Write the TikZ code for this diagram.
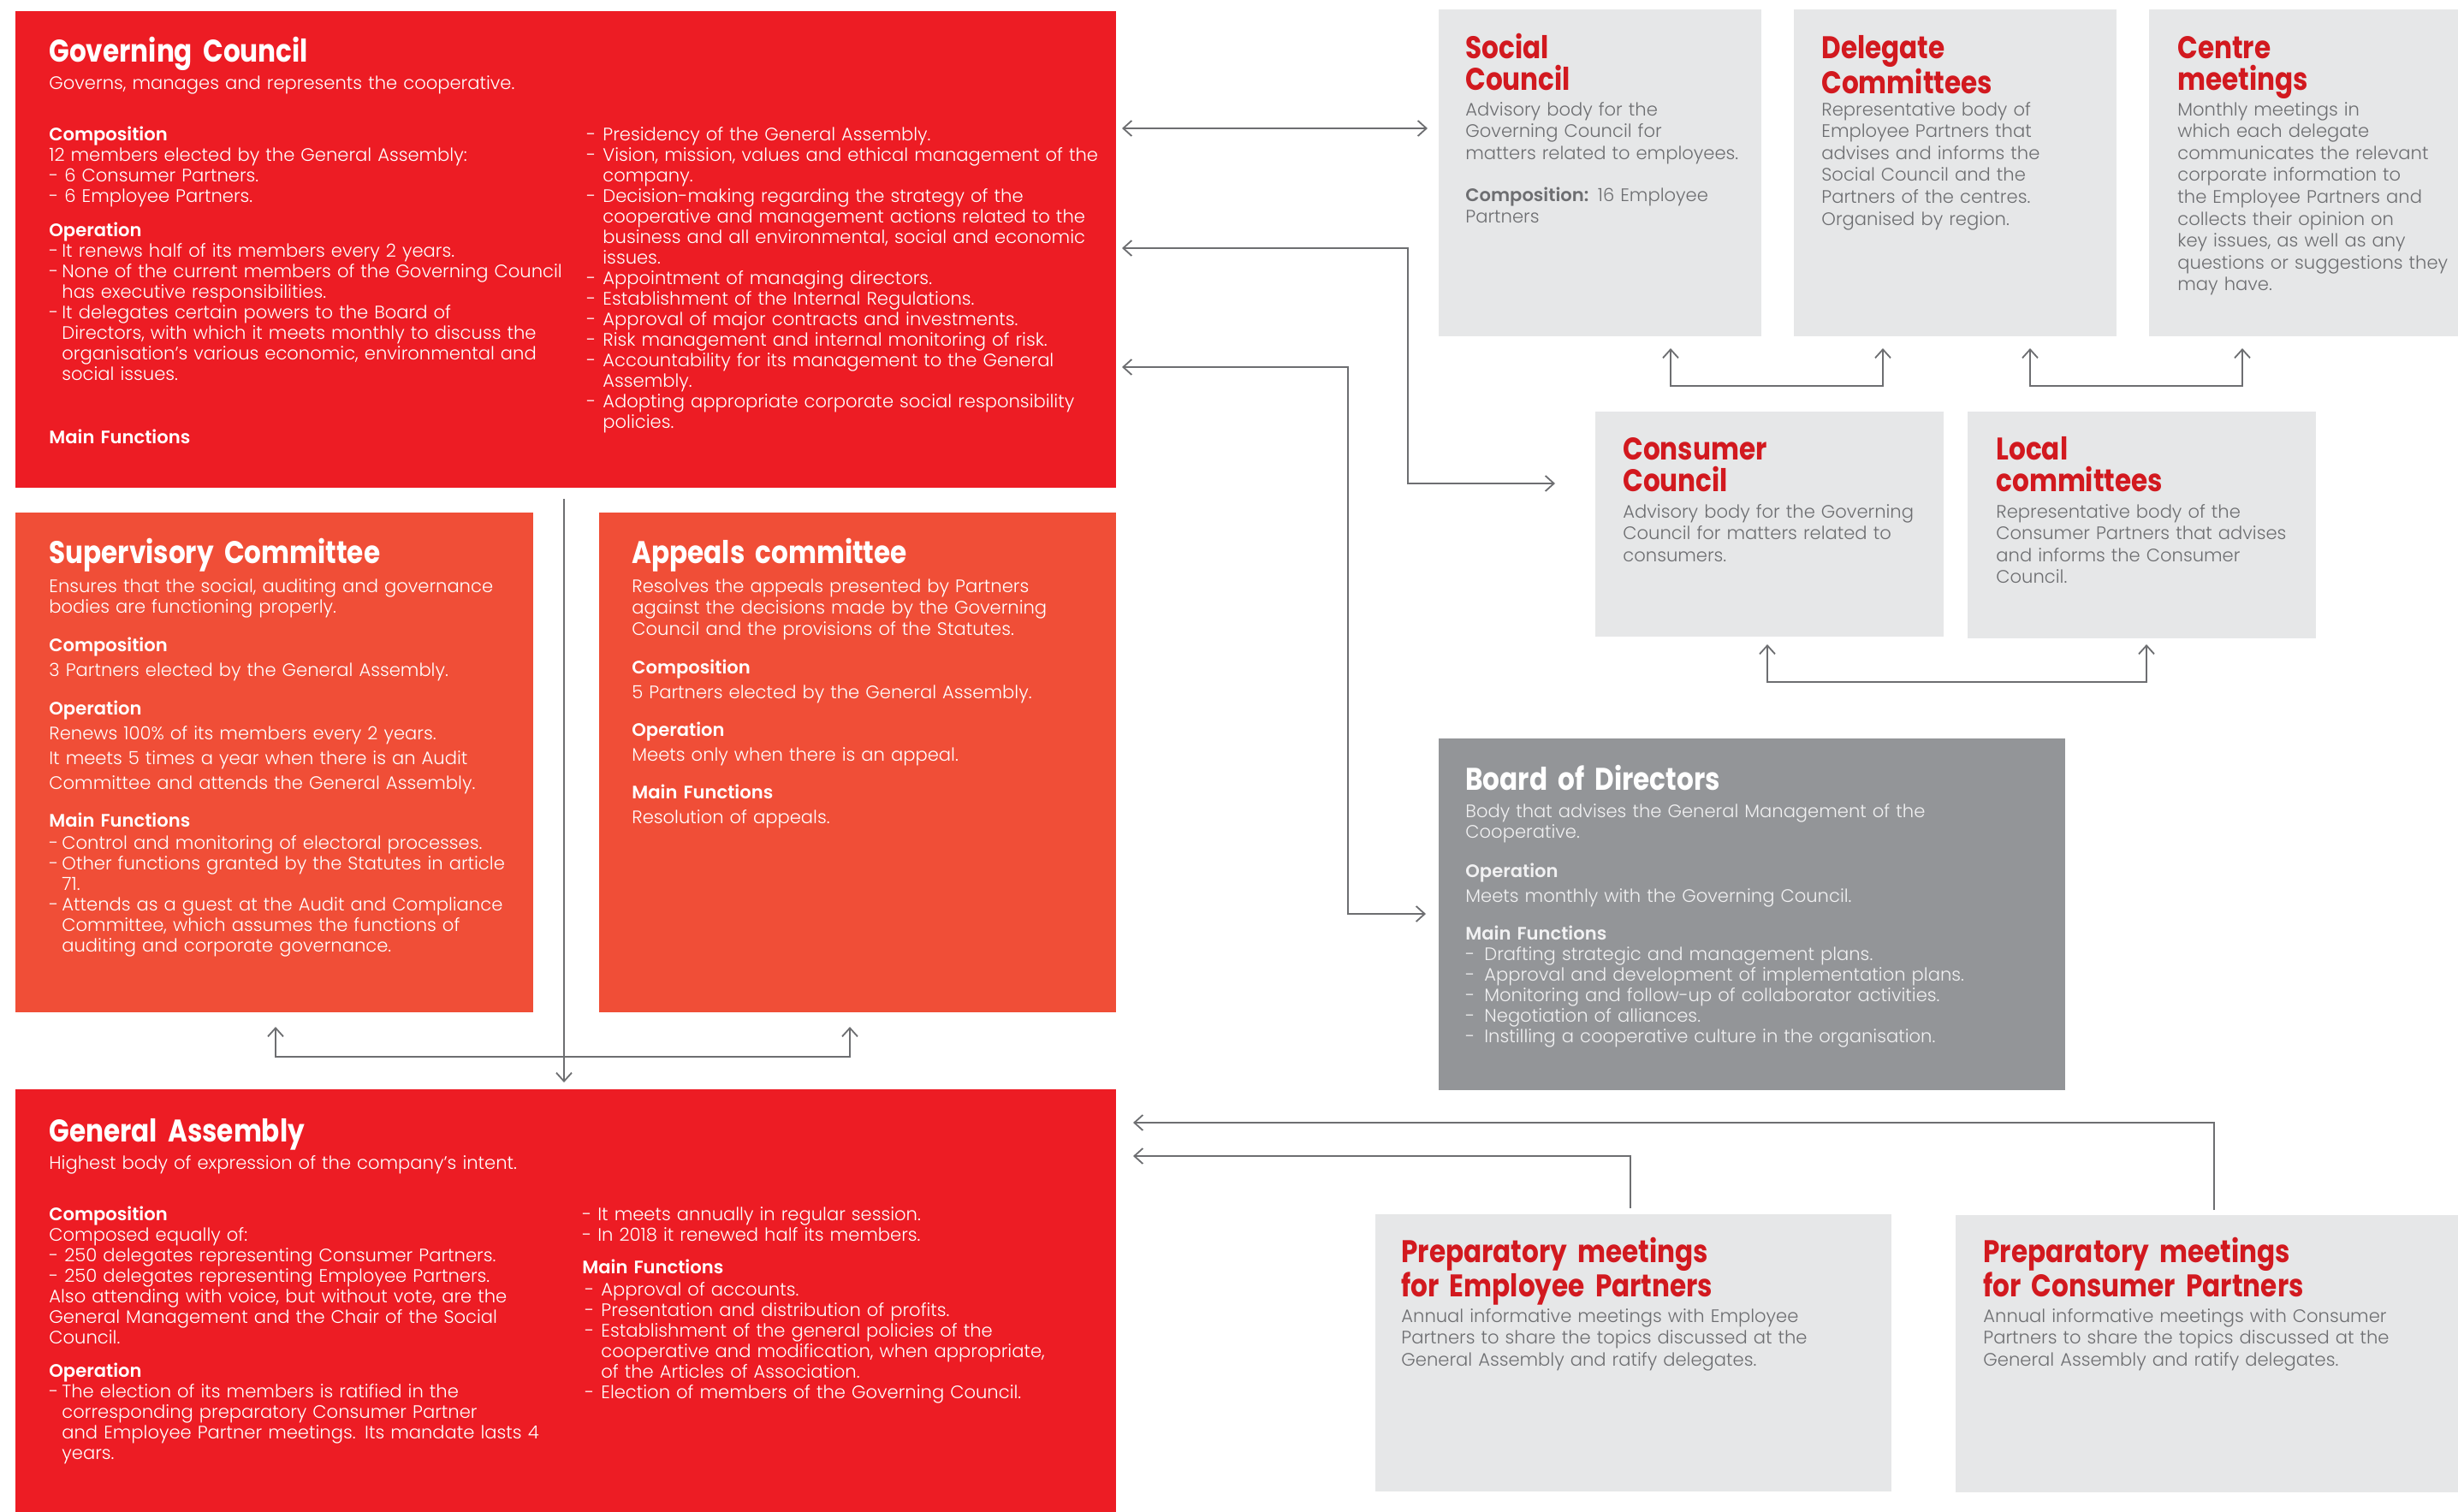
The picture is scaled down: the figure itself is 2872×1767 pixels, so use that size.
\documentclass[tikz,border=0pt]{standalone}
\usepackage{fontspec}
\setmainfont{Poppins}[UprightFont={* Light}, BoldFont={* SemiBold}]
\newfontfamily\titlef{Poppins}[FakeStretch=0.85]
\usetikzlibrary{arrows.meta,calc,fit}
\definecolor{gcred}{HTML}{ED1C24}
\definecolor{orred}{HTML}{F04E37}
\definecolor{lgrey}{HTML}{E6E7E8}
\definecolor{dgrey}{HTML}{939598}
\definecolor{tred}{HTML}{D2191F}
\definecolor{tgrey}{HTML}{6D6E71}
\definecolor{lineg}{HTML}{6D6E71}
\definecolor{bwhite}{HTML}{F1F1F2}
\newcommand\hd[1]{{\bfseries #1}}
\newcommand\dsh{\makebox[7.5pt][l]{-}}
\newcommand\ind{\hspace*{7.5pt}}
\newcommand\dshb{\makebox[9.5pt][l]{-}}
\newcommand\indb{\hspace*{9.5pt}}
\begin{document}
\begin{tikzpicture}[x=0.5pt,y=-0.5pt,
  box/.style={inner sep=0pt, outer sep=0pt, draw=none},
  txt/.style={anchor=base west, inner sep=0pt, yshift=-1.5pt, align=left, text width=340pt, text=white, font=\fontsize{10.55}{12}\selectfont},
  txtw/.style={txt, font=\fontsize{10.55}{14.5}\selectfont},
  txtg/.style={txt, yshift=1pt, text=tgrey, font=\fontsize{10.55}{12.8}\selectfont},
  ttl/.style={anchor=base west, inner sep=0pt, yshift=-1pt, align=left, text width=340pt, text=white, font={\titlef\bfseries\fontsize{18.3}{18.5}\selectfont}},
  ttlg/.style={ttl, text=tred},
  conn/.style={draw=lineg, line width=0.9pt, >={Straight Barb[length=5pt,width=9pt]}}
]
\useasboundingbox (0,0) rectangle (2872,1767);
\fill[white] (0,0) rectangle (2872,1767);

% boxes
\node[box, fill=gcred, fit={(18,13)(1304,570)}] (gc) {};
\node[box, fill=orred, fit={(18,599)(623,1183)}] (sup) {};
\node[box, fill=orred, fit={(700,599)(1304,1183)}] (app) {};
\node[box, fill=gcred, fit={(18,1273)(1304,1767)}] (ga) {};
\node[box, fill=lgrey, fit={(1681,11)(2058,393)}] (soc) {};
\node[box, fill=lgrey, fit={(2096,11)(2473,393)}] (del) {};
\node[box, fill=lgrey, fit={(2511,11)(2872,393)}] (cen) {};
\node[box, fill=lgrey, fit={(1864,481)(2271,744)}] (con) {};
\node[box, fill=lgrey, fit={(2299,481)(2706,746)}] (loc) {};
\node[box, fill=dgrey, fit={(1681,863)(2413,1274)}] (bod) {};
\node[box, fill=lgrey, fit={(1607,1419)(2210,1743)}] (pe) {};
\node[box, fill=lgrey, fit={(2285,1420)(2872,1744)}] (pc) {};

% Governing Council
\node[ttl] (gct) at (57,70) {Governing Council};
\node[txt] (gcs) at (57,101) {Governs, manages and represents the cooperative.};
\node[txt] (gcc) at (57,161) {\hd{Composition}\\12 members elected by the General Assembly:\\- 6 Consumer Partners.\\- 6 Employee Partners.};
\node[txt] (gco) at (57,273) {\hd{Operation}\\\dsh It renews half of its members every 2 years.\\\dsh None of the current members of the Governing Council\\\ind has executive responsibilities.\\\dsh It delegates certain powers to the Board of\\\ind Directors, with which it meets monthly to discuss the\\\ind organisation's various economic, environmental and\\\ind social issues.};
\node[txt] (gcm) at (57,515) {\hd{Main Functions}};
\node[txt] (gcr) at (685,161) {\dshb Presidency of the General Assembly.\\
\dshb Vision, mission, values and ethical management of the\\
\indb company.\\
\dshb Decision-making regarding the strategy of the\\
\indb cooperative and management actions related to the\\
\indb business and all environmental, social and economic\\
\indb issues.\\
\dshb Appointment of managing directors.\\
\dshb Establishment of the Internal Regulations.\\
\dshb Approval of major contracts and investments.\\
\dshb Risk management and internal monitoring of risk.\\
\dshb Accountability for its management to the General\\
\indb Assembly.\\
\dshb Adopting appropriate corporate social responsibility\\
\indb policies.};

% Supervisory Committee
\node[ttl] (supt) at (57,656) {Supervisory Committee};
\node[txt] (sups) at (57,689) {Ensures that the social, auditing and governance\\bodies are functioning properly.};
\node[txtw] (supc) at (57,758) {\hd{Composition}\\3 Partners elected by the General Assembly.};
\node[txtw] (supo) at (57,832) {\hd{Operation}\\Renews 100\% of its members every 2 years.\\It meets 5 times a year when there is an Audit\\Committee and attends the General Assembly.};
\node[txt] (supm) at (57,963) {\hd{Main Functions}\\[1pt]\dsh Control and monitoring of electoral processes.\\\dsh Other functions granted by the Statutes in article\\\ind 71.\\\dsh Attends as a guest at the Audit and Compliance\\\ind Committee, which assumes the functions of\\\ind auditing and corporate governance.};

% Appeals committee
\node[ttl] (appt) at (738,656) {Appeals committee};
\node[txt, font=\fontsize{10.55}{12.5}\selectfont] (apps) at (738,689) {Resolves the appeals presented by Partners\\against the decisions made by the Governing\\Council and the provisions of the Statutes.};
\node[txtw] (appc) at (738,784) {\hd{Composition}\\5 Partners elected by the General Assembly.};
\node[txtw] (appo) at (738,857) {\hd{Operation}\\Meets only when there is an appeal.};
\node[txtw] (appm) at (738,930) {\hd{Main Functions}\\Resolution of appeals.};

% General Assembly
\node[ttl] (gat) at (57,1332) {General Assembly};
\node[txt] (gas) at (57,1363) {Highest body of expression of the company’s intent.};
\node[txt] (gac) at (57,1423) {\hd{Composition}\\Composed equally of:\\- 250 delegates representing Consumer Partners.\\- 250 delegates representing Employee Partners.\\Also attending with voice, but without vote, are the\\General Management and the Chair of the Social\\Council.};
\node[txt] (gao) at (57,1606) {\hd{Operation}\\\dsh The election of its members is ratified in the\\\ind corresponding preparatory Consumer Partner\\\ind and Employee Partner meetings. Its mandate lasts 4\\\ind years.};
\node[txt] (gar) at (680,1423) {- It meets annually in regular session.\\- In 2018 it renewed half its members.};
\node[txt] (gam) at (680,1485) {\hd{Main Functions}};
\node[txt] (gaf) at (683,1511) {\dshb Approval of accounts.\\
\dshb Presentation and distribution of profits.\\
\dshb Establishment of the general policies of the\\
\indb cooperative and modification, when appropriate,\\
\indb of the Articles of Association.\\
\dshb Election of members of the Governing Council.};

% Social Council
\node[ttlg] (soct) at (1712,66) {Social\\Council};
\node[txtg] (socs) at (1712,134) {Advisory body for the\\Governing Council for\\matters related to employees.};
\node[txtg] (socc) at (1712,234) {\hd{Composition:} 16 Employee\\Partners};

% Delegate Committees
\node[ttlg] (delt) at (2128,66) {Delegate\\Committees};
\node[txtg] (dels) at (2128,134) {Representative body of\\Employee Partners that\\advises and informs the\\Social Council and the\\Partners of the centres.\\Organised by region.};

% Centre meetings
\node[ttlg] (cent) at (2544,66) {Centre\\meetings};
\node[txtg] (cens) at (2544,134) {Monthly meetings in\\which each delegate\\communicates the relevant\\corporate information to\\the Employee Partners and\\collects their opinion on\\key issues, as well as any\\questions or suggestions they\\may have.};

% Consumer Council
\node[ttlg] (cont) at (1896,535) {Consumer\\Council};
\node[txtg] (cons) at (1896,604) {Advisory body for the Governing\\Council for matters related to\\consumers.};

% Local committees
\node[ttlg] (loct) at (2332,535) {Local\\committees};
\node[txtg] (locs) at (2332,604) {Representative body of the\\Consumer Partners that advises\\and informs the Consumer\\Council.};

% Board of Directors
\node[ttl] (bodt) at (1712,921) {Board of Directors};
\node[txt, text=bwhite] (bods) at (1712,952) {Body that advises the General Management of the\\Cooperative.};
\node[txtw, text=bwhite] (bodo) at (1712,1022) {\hd{Operation}\\Meets monthly with the Governing Council.};
\node[txt, text=bwhite] (bodm) at (1712,1095) {\hd{Main Functions}\\[0.2pt]\makebox[11pt][l]{-}Drafting strategic and management plans.\\\makebox[11pt][l]{-}Approval and development of implementation plans.\\\makebox[11pt][l]{-}Monitoring and follow-up of collaborator activities.\\\makebox[11pt][l]{-}Negotiation of alliances.\\\makebox[11pt][l]{-}Instilling a cooperative culture in the organisation.};

% Preparatory meetings
\node[ttlg, font={\titlef\bfseries\fontsize{18.3}{19}\selectfont}] (pet) at (1637,1473) {Preparatory meetings\\for Employee Partners};
\node[txtg] (pes) at (1637,1544) {Annual informative meetings with Employee\\Partners to share the topics discussed at the\\General  Assembly and ratify delegates.};
\node[ttlg, font={\titlef\bfseries\fontsize{18.3}{19}\selectfont}] (pct) at (2317,1473) {Preparatory meetings\\for Consumer Partners};
\node[txtg] (pcs) at (2317,1544) {Annual informative meetings with Consumer\\Partners to share the topics discussed at the\\General Assembly and ratify delegates.};

% connectors
\coordinate (k1) at (1645,565);
\coordinate (k2) at (1575,1068);
\draw[conn,<->] ($(gc.east|-0,150)+(7,0)$) -- ($(soc.west|-0,150)+(-13,0)$);
\draw[conn,<->] ($(gc.east|-0,290)+(7,0)$) -| (k1) -- ($(con.west|-k1)+(-47,0)$);
\draw[conn,<->] ($(gc.east|-0,429)+(7,0)$) -| (k2) -- ($(bod.west|-k2)+(-15,0)$);
\draw[conn,<->] ($(soc.south)+(82.5,14)$) -- ++(0,44) -| ($(del.south)+(-84.5,14)$);
\draw[conn,<->] ($(del.south)+(87.5,14)$) -- ++(0,44) -| ($(cen.south)+(-71.5,14)$);
\draw[conn,<->] ($(con.south)+(-2.5,9)$) -- ++(0,44) -| ($(loc.south)+(5.5,7)$);
\draw[conn,<->] ($(sup.south)+(1.5,17)$) -- ++(0,35) -| ($(app.south)+(-9,17)$);
\draw[conn,->] ($(gc.south)+(-2,13)$) -- ($(ga.north)+(-2,-8)$);
\draw[conn,->] ($(pc.north)+(8.5,-6)$) |- ($(ga.north east)+(20,39)$);
\draw[conn,->] ($(pe.north)+(-3.5,-7)$) |- ($(ga.north east)+(20,78)$);
\end{tikzpicture}
\end{document}
